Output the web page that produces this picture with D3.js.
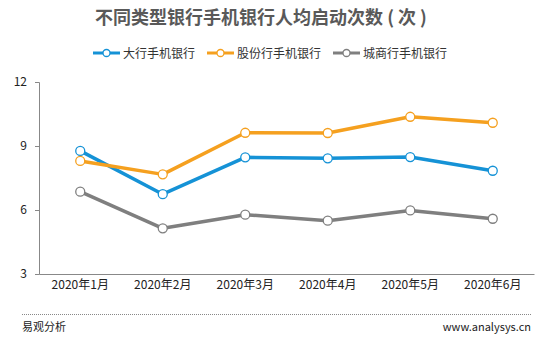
<!DOCTYPE html>
<html><head><meta charset="utf-8">
<script src="https://cdn.jsdelivr.net/npm/d3@7"></script>
<style>body{margin:0;background:#fff}svg{display:block}</style>
</head><body>
<svg id="c" width="552" height="341"></svg>
<script>
const categories = ["2020年1月","2020年2月","2020年3月","2020年4月","2020年5月","2020年6月"];
const seriesNames = ["大行手机银行","股份行手机银行","城商行手机银行"];
const bigBank = [8.77, 6.74, 8.47, 8.42, 8.48, 7.84];
const jointStock = [8.30, 7.67, 9.62, 9.61, 10.37, 10.09];
const cityBank = [6.86, 5.14, 5.78, 5.50, 5.98, 5.59];
const yTicks = [3, 6, 9, 12];
const colors = ["#1592d6", "#f5a01f", "#7f7f7f"];
const series = [bigBank, jointStock, cityBank];

const font = "'Microsoft YaHei','Noto Sans CJK SC',sans-serif";
const svg = d3.select("#c");
const x = d3.scaleBand().domain(categories).range([39, 534]);
const y = d3.scaleLinear().domain([3, 12]).range([274, 82]);

svg.append("text").attr("x", 261).attr("y", 24).attr("text-anchor", "middle")
  .attr("font-family", font).attr("font-size", 18).attr("font-weight", "bold")
  .attr("fill", "#595959").text("不同类型银行手机银行人均启动次数 ( 次 )");

// legend
const legX = [93, 207, 333];
seriesNames.forEach((n, i) => {
  const g = svg.append("g").attr("transform", `translate(${legX[i]},53)`);
  g.append("line").attr("x1", 0).attr("x2", 27).attr("y1", 0).attr("y2", 0)
    .attr("stroke", colors[i]).attr("stroke-width", 3);
  g.append("circle").attr("cx", 13.5).attr("cy", 0).attr("r", 3.5)
    .attr("fill", "#fff").attr("stroke", colors[i]).attr("stroke-width", 1.3);
  g.append("text").attr("x", 30).attr("y", 4.5).attr("font-family", font)
    .attr("font-size", 12).attr("fill", "#333").text(n);
});

// axes
const yAxis = svg.append("g").attr("transform", "translate(39,0)")
  .call(d3.axisLeft(y).tickValues(yTicks).tickSize(4).tickFormat(d3.format("d")));
yAxis.select(".domain").attr("stroke", "#888");
yAxis.selectAll(".tick line").attr("stroke", "#888");
yAxis.selectAll("text").attr("font-family", font).attr("font-size", 12).attr("fill", "#222").attr("x", -12);

const xAxis = svg.append("g").attr("transform", "translate(0,274)")
  .call(d3.axisBottom(x).tickSize(0).tickSizeOuter(0));
xAxis.select(".domain").attr("stroke", "#888");
xAxis.selectAll("text").attr("font-family", font).attr("font-size", 12).attr("fill", "#222").attr("dy", "0.95em").attr("y", 4);

const line = d3.line().x((d, i) => x(categories[i]) + x.bandwidth() / 2).y(d => y(d));
series.forEach((s, i) => {
  svg.append("path").datum(s).attr("d", line).attr("fill", "none")
    .attr("stroke", colors[i]).attr("stroke-width", 3.5).attr("stroke-linejoin", "round");
});
series.forEach((s, i) => {
  svg.selectAll(null).data(s).enter().append("circle")
    .attr("cx", (d, j) => x(categories[j]) + x.bandwidth() / 2).attr("cy", d => y(d))
    .attr("r", 4.5).attr("fill", "#fff").attr("stroke", colors[i]).attr("stroke-width", 1.3);
});

// footer
svg.append("line").attr("x1", 22).attr("x2", 531).attr("y1", 314.5).attr("y2", 314.5)
  .attr("stroke", "#888").attr("stroke-width", 1).attr("stroke-dasharray", "1,1");
svg.append("text").attr("x", 22).attr("y", 331).attr("font-family", font).attr("font-size", 11)
  .attr("fill", "#222").text("易观分析");
svg.append("text").attr("x", 531).attr("y", 331).attr("text-anchor", "end").attr("font-family", font)
  .attr("font-size", 11).attr("fill", "#222").text("www.analysys.cn");
</script>
</body></html>
